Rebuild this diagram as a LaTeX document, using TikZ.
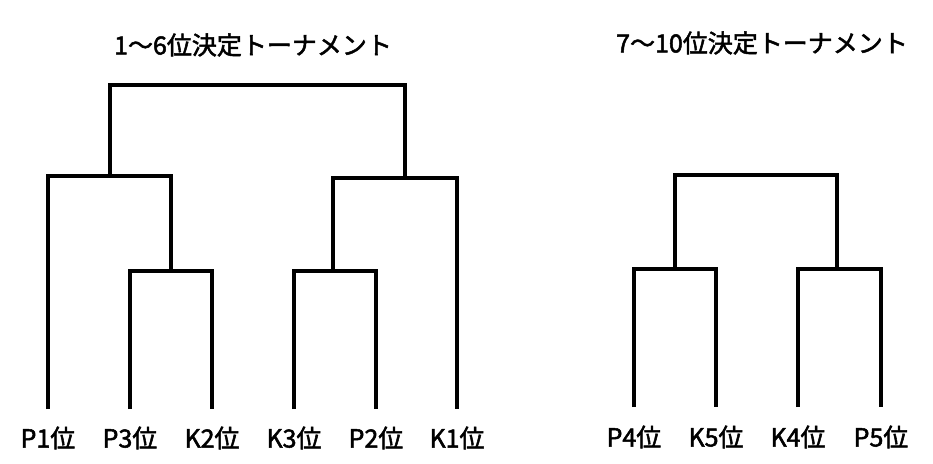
\documentclass[tikz,border=0pt]{standalone}
\usepackage{fontspec}
\setmainfont{Noto Sans CJK JP}[FakeBold=2]
\begin{document}
\begin{tikzpicture}[x=1pt,y=-1pt,
  br/.style={line width=3.1pt,line join=miter},
  lab/.style={font=\fontsize{25}{28}\selectfont,inner sep=0pt,anchor=center},
  ttl/.style={font=\fontsize{25}{28}\selectfont,inner sep=0pt,anchor=center}]
\useasboundingbox (0,0) rectangle (933,463);
% titles
\node[ttl] (t1) at (253,45) {1〜6位決定トーナメント};
\node[ttl] (t2) at (762,43) {7〜10位決定トーナメント};
% left leaves
\foreach \n/\x/\t in {1/48/P1位,2/130/P3位,3/212/K2位,4/294/K3位,5/376/P2位,6/457/K1位}{
  \node[lab] (L\n) at (\x,438) {\t};
  \coordinate (b\n) at (\x,409);
}
\coordinate (a) at (171,271);
\coordinate (b) at (333,271);
\coordinate (c) at (110,176);
\coordinate (d) at (405,178);
\coordinate (e) at (257,85);
\draw[br] (b2) |- (a) -| (b3);
\draw[br] (b4) |- (b) -| (b5);
\draw[br] (b1) |- (c) -| (a);
\draw[br] (b) |- (d) -| (b6);
\draw[br] (c) |- (e) -| (d);
% right leaves
\foreach \n/\x/\t in {1/634/P4位,2/716/K5位,3/798/K4位,4/881/P5位}{
  \node[lab] (R\n) at (\x,437) {\t};
  \coordinate (r\n) at (\x,407);
}
\coordinate (f) at (675,269);
\coordinate (g) at (837,269);
\coordinate (h) at (756,175);
\draw[br] (r1) |- (f) -| (r2);
\draw[br] (r3) |- (g) -| (r4);
\draw[br] (f) |- (h) -| (g);
\end{tikzpicture}
\end{document}
